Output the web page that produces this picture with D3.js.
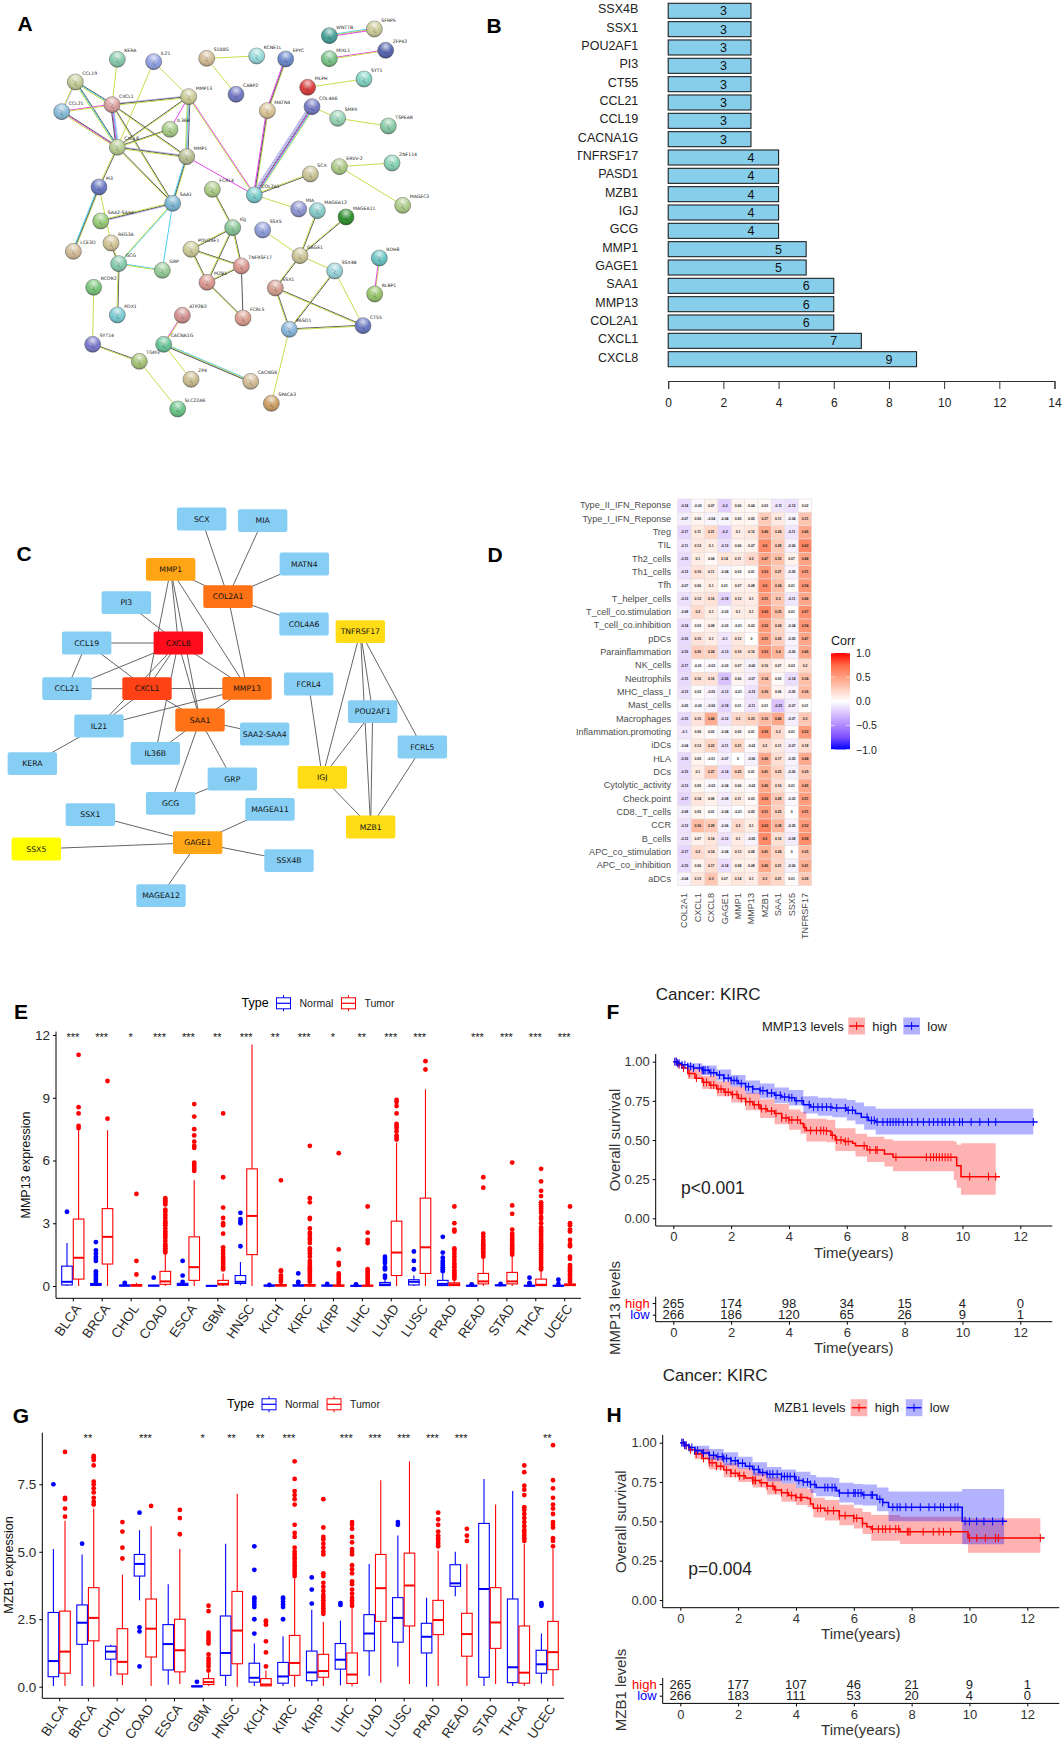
<!DOCTYPE html>
<html>
<head>
<meta charset="utf-8">
<script src="https://cdnjs.cloudflare.com/ajax/libs/d3/7.8.5/d3.min.js"></script>
<style>
body { margin: 0; background: #fff; }
text { font-family: "Liberation Sans", sans-serif; }
</style>
</head>
<body>
<div id="fig"></div>
<script>
// ---- panel B
const hubGenes = ["SSX4B","SSX1","POU2AF1","PI3","CT55","CCL21","CCL19","CACNA1G","TNFRSF17","PASD1","MZB1","IGJ","GCG","MMP1","GAGE1","SAA1","MMP13","COL2A1","CXCL1","CXCL8"];
const hubDegree = [3,3,3,3,3,3,3,3,4,4,4,4,4,5,5,6,6,6,7,9];
const hubTicks = [0,2,4,6,8,10,12,14];

// ---- panel A, STRING network: name, layout x, layout y
const stringNodes = [["WNT7B",988,107],["SFRP5",1123,87],["ZFP42",1157,151],["MIXL1",988,176],["SYT1",1092,237],["MLPH",923,262],["COL4A6",936,320],["SMPX",1013,355],["TSPEAR",1165,378],["KERA",352,178],["IL21",461,185],["S100G",620,175],["KCNE1L",770,168],["EPYC",857,177],["CABP2",708,283],["CCL19",226,246],["CCL21",185,335],["CXCL1",336,314],["MMP13",566,290],["MATN4",802,332],["IL36B",510,388],["CXCL8",352,442],["MMP1",560,470],["PI3",297,561],["SAA1",518,610],["COL2A1",763,585],["SCX",931,522],["ERVV-2",1018,500],["ZNF114",1176,489],["MAGEC3",1208,616],["FCRL4",637,568],["MIA",896,627],["MAGEA12",952,632],["MAGEA11",1038,651],["SAA2-SAA4",302,663],["IGJ",698,683],["SSX5",788,690],["POU2AF1",573,748],["REG3A",333,729],["LCE3D",220,754],["GCG",356,791],["GRP",487,811],["GAGE1",900,767],["TNFRSF17",724,798],["SSX4B",1004,813],["RDH8",1138,774],["MZB1",621,847],["SSX1",826,864],["RCOR2",281,862],["RLBP1",1124,882],["FCRL5",729,954],["PDX1",352,945],["ATP2B3",547,946],["PASD1",868,988],["CT55",1089,977],["SYT14",278,1033],["CACNA1G",491,1033],["TGM3",418,1084],["ZP4",573,1138],["CACNG6",752,1144],["SPACA3",814,1210],["SLC22A6",533,1227]];
const stringColors = ["#3a9a90","#c8c890","#4a5aa8","#70c080","#7ad0c0","#d83030","#6a70c0","#90d0b0","#80c8a0","#80c8a8","#8a9ae0","#d0b890","#90d8d8","#6080c8","#6a70c0","#c0c890","#80b8d8","#d89a98","#c8c890","#d8c090","#a0c880","#b0c888","#b0b888","#6070c0","#70b0d0","#70c8c8","#c8c090","#a8c880","#80d0b0","#a8c880","#a8c880","#8890d0","#80c8c8","#208820","#90c870","#80c090","#8898d8","#c8c890","#d0c090","#d0b890","#80c8a8","#90c890","#c8c090","#d89088","#90d0d8","#60c0c0","#d89088","#d09888","#70c070","#90c060","#d89888","#70c8d0","#d08888","#80b0d8","#6070c0","#7070c8","#60c090","#a0c070","#c8b888","#d0b890","#c89858","#60c080"];
// y text mining, k coexpression, m experiments, c databases, b homology
const stringEdges = [["WNT7B","SFRP5","cym"],["MIXL1","ZFP42","my"],["S100G","KCNE1L","y"],["S100G","CABP2","y"],["EPYC","MATN4","ykm"],["MATN4","COL2A1","ykm"],["COL4A6","COL2A1","ycmkbbb"],["COL4A6","SMPX","y"],["SMPX","TSPEAR","y"],["MLPH","SYT1","y"],["ERVV-2","ZNF114","y"],["ERVV-2","MAGEC3","y"],["SCX","COL2A1","ky"],["COL2A1","MIA","y"],["MMP13","COL2A1","my"],["MMP1","COL2A1","m"],["KERA","CXCL1","y"],["IL21","MMP13","y"],["IL21","CXCL8","y"],["CCL19","CCL21","by"],["CCL19","CXCL1","kcy"],["CCL19","CXCL8","kcy"],["CCL21","CXCL1","my"],["CCL21","CXCL8","kmy"],["CXCL1","MMP13","bky"],["CXCL1","CXCL8","bcmk"],["CXCL1","MMP1","ky"],["CXCL1","SAA1","ky"],["CXCL8","MMP13","ky"],["CXCL8","IL36B","ky"],["CXCL8","MMP1","bky"],["CXCL8","SAA1","ky"],["CXCL8","PI3","ky"],["MMP13","MMP1","kbcy"],["MMP13","IL36B","m"],["MMP1","SAA1","ykc"],["SAA1","SAA2-SAA4","bky"],["SAA1","GCG","cy"],["SAA1","GRP","c"],["PI3","LCE3D","ykc"],["PI3","REG3A","y"],["GCG","GRP","cy"],["GCG","REG3A","ky"],["GCG","PDX1","ky"],["RCOR2","SYT14","y"],["SYT14","TGM3","ky"],["TGM3","SLC22A6","y"],["CACNA1G","ATP2B3","my"],["CACNA1G","ZP4","y"],["CACNA1G","CACNG6","cyk"],["FCRL4","IGJ","ky"],["IGJ","POU2AF1","ky"],["IGJ","TNFRSF17","ky"],["IGJ","MZB1","ky"],["POU2AF1","TNFRSF17","ky"],["POU2AF1","MZB1","ky"],["TNFRSF17","MZB1","ky"],["TNFRSF17","FCRL5","k"],["MZB1","FCRL5","ky"],["SSX5","GAGE1","y"],["MAGEA12","GAGE1","ky"],["MAGEA11","GAGE1","ky"],["GAGE1","SSX4B","y"],["GAGE1","SSX1","ky"],["SSX1","PASD1","ky"],["SSX1","CT55","ky"],["SSX4B","PASD1","ky"],["SSX4B","CT55","y"],["PASD1","CT55","ky"],["PASD1","SPACA3","y"],["RDH8","RLBP1","ym"]];

// ---- panel C, cytoscape network: name, layout x, layout y, rank colour
const cytoNodes = [["SCX",605,87,0],["MIA",788,92,0],["MATN4",913,222,0],["MMP1",512,238,3],["COL2A1",684,320,4],["PI3",379,338,0],["COL4A6",912,402,0],["TNFRSF17",1081,425,2],["CCL19",260,459,0],["CXCL8",535,459,6],["CCL21",201,596,0],["CXCL1",441,596,5],["MMP13",741,595,4],["FCRL4",926,582,0],["POU2AF1",1118,665,0],["SAA1",600,690,4],["IL21",297,708,0],["SAA2-SAA4",794,732,0],["IL36B",466,790,0],["FCRL5",1267,771,0],["KERA",97,821,0],["GRP",697,867,0],["IGJ",967,862,2],["GCG",512,940,0],["SSX1",271,974,0],["MAGEA11",810,958,0],["MZB1",1112,1011,2],["SSX5",109,1077,1],["GAGE1",593,1058,3],["SSX4B",867,1112,0],["MAGEA12",483,1217,0]];
const cytoRankColors = ["#87CEF5","#FFFF00","#FFDC16","#FFA516","#FF7216","#FF4216","#FF0D1A"];
const cytoEdges = [["SCX","COL2A1"],["MIA","COL2A1"],["MATN4","COL2A1"],["COL4A6","COL2A1"],["MMP1","COL2A1"],["COL2A1","MMP13"],["PI3","CXCL8"],["MMP1","CXCL1"],["MMP1","CXCL8"],["MMP1","SAA1"],["MMP1","MMP13"],["CCL19","CXCL8"],["CCL19","CCL21"],["CCL19","CXCL1"],["CCL21","CXCL8"],["CCL21","CXCL1"],["CXCL8","CXCL1"],["CXCL8","MMP13"],["CXCL8","SAA1"],["CXCL8","IL21"],["CXCL8","IL36B"],["CXCL1","MMP13"],["CXCL1","IL21"],["CXCL1","SAA1"],["MMP13","IL21"],["MMP13","SAA1"],["SAA1","SAA2-SAA4"],["SAA1","IL36B"],["SAA1","GRP"],["SAA1","GCG"],["GRP","GCG"],["IL21","KERA"],["SSX1","GAGE1"],["SSX5","GAGE1"],["MAGEA11","GAGE1"],["SSX4B","GAGE1"],["MAGEA12","GAGE1"],["TNFRSF17","IGJ"],["TNFRSF17","POU2AF1"],["TNFRSF17","MZB1"],["TNFRSF17","FCRL5"],["FCRL4","IGJ"],["POU2AF1","IGJ"],["POU2AF1","MZB1"],["IGJ","MZB1"],["FCRL5","MZB1"]];

// ---- panel D
const heatCols = ["COL2A1","CXCL1","CXCL8","GAGE1","MMP1","MMP13","MZB1","SAA1","SSX5","TNFRSF17"];
const heatRows = ["Type_II_IFN_Reponse","Type_I_IFN_Reponse","Treg","TIL","Th2_cells","Th1_cells","Tfh","T_helper_cells","T_cell_co.stimulation","T_cell_co.inhibition","pDCs","Parainflammation","NK_cells","Neutrophils","MHC_class_I","Mast_cells","Macrophages","Inflammation.promoting","iDCs","HLA","DCs","Cytolytic_activity","Check.point","CD8._T_cells","CCR","B_cells","APC_co_stimulation","APC_co_inhibition","aDCs"];
const heatValues = [
[-.14,-.03,.07,-.2,.06,.04,.03,-.11,-.13,.02],
[-.07,.06,-.04,-.04,.05,.05,.27,.11,-.04,.31],
[-.17,.11,.21,-.2,.1,.12,.46,.24,-.11,.46],
[-.11,.12,.1,-.13,.06,.07,.6,.28,-.06,.62],
[-.15,.1,.04,.14,.11,.2,.47,.33,.07,.48],
[-.12,.16,.11,-.04,.03,.01,.53,.27,-.05,.51],
[-.07,.06,.1,.01,.07,.08,.6,.34,.01,.54],
[-.13,.12,.16,-.18,.12,.1,.51,.3,-.11,.46],
[-.08,.2,.1,-.03,.1,.1,.62,.35,.01,.57],
[-.14,.03,.08,-.03,-.01,.03,.52,.24,-.04,.54],
[-.16,.15,.1,-.1,.12,0,.51,.26,-.05,.47],
[-.16,.26,.24,-.13,.16,.16,.53,.4,-.06,.46],
[-.17,-.01,-.03,-.03,.07,-.06,.16,.07,.03,.2],
[-.15,.16,.16,-.26,.06,-.07,.34,.03,-.14,.34],
[-.13,.02,-.05,-.13,-.01,-.12,.36,.06,-.05,.36],
[-.05,-.03,-.06,-.18,.01,-.11,.01,-.25,-.07,.01],
[-.15,.15,.44,-.12,.2,.23,.36,.46,-.07,.3],
[-.1,.06,.02,-.04,.05,.01,.56,.2,.01,.52],
[-.04,.12,.22,-.11,.21,-.02,.2,.11,-.07,.18],
[-.16,.05,-.01,-.07,0,-.06,.46,.17,-.05,.44],
[-.15,.1,.27,-.14,.25,.01,.41,.23,-.06,.29],
[-.13,.05,-.03,-.04,.06,-.02,.46,.16,.01,.45],
[-.17,.14,.08,-.08,.11,.03,.56,.28,-.03,.51],
[-.08,.05,.01,-.04,-.01,.05,.51,.25,0,.51],
[-.12,.36,.28,-.06,.2,.1,.62,.38,-.05,.52],
[-.12,.07,.14,-.12,.1,-.05,.6,.16,-.08,.58],
[-.17,.2,.14,-.04,.13,.08,.41,.24,0,.35],
[-.15,.06,.17,-.14,.08,.08,.46,.21,-.06,.41],
[-.04,.13,.3,.07,.14,.1,.3,.21,.01,.28]];
const corrTicks = [1,.5,0,-.5,-1];
const corrStops = [1,.75,.5,.25,0,-.25,-.5,-.75,-1];

// ---- panels E and G: [q1, median, q3, whisker low, whisker high]
const cancers = ["BLCA","BRCA","CHOL","COAD","ESCA","GBM","HNSC","KICH","KIRC","KIRP","LIHC","LUAD","LUSC","PRAD","READ","STAD","THCA","UCEC"];
const eStars = ["***","***","*","***","***","**","***","**","***","*","**","***","***","","***","***","***","***"];
const eTicks = [0,3,6,9,12];
const eNormalBox = [[.05,.2,.95,0,2.05],[.03,.07,.12,0,.18],[0,.02,.04,0,.06],[0,.02,.03,0,.05],[.03,.07,.13,0,.18],[0,.01,.02,0,.03],[.12,.2,.5,.03,1.15],[0,.02,.04,0,.06],[0,.02,.05,0,.1],[0,.02,.04,0,.06],[0,.01,.02,0,.04],[.02,.07,.17,0,.35],[.05,.2,.3,0,.5],[.02,.1,.27,0,.6],[0,.01,.03,0,.05],[.02,.03,.05,0,.08],[0,.01,.03,0,.05],[0,.01,.03,0,.05]];
const eTumorBox = [[.33,1.35,3.2,0,7.5],[1.05,2.35,3.7,0,7.45],[0,.02,.07,0,.15],[.08,.22,.7,0,1.5],[.27,.9,2.35,0,5.05],[.05,.1,.27,0,.6],[1.5,3.35,5.6,0,11.55],[0,.03,.07,0,.15],[0,.02,.07,0,.15],[0,.01,.05,0,.1],[0,.01,.04,0,.08],[.5,1.6,3.1,0,6.85],[.6,1.85,4.2,0,9.4],[.02,.08,.15,0,.3],[.1,.22,.6,0,1.3],[.1,.22,.65,0,1.4],[.02,.06,.33,0,.75],[.02,.05,.1,0,.2]];
const eNormalOut = [[3.55],[.2,.3,.4,.5,.6,.7,1.2,1.3,1.4,1.55,1.7,2.1],[.1,.15],[.4],[.2,.5,1.2],[],[1.9,3,3.1,3.2,3.5],[.05],[.15,.2,.6],[.1],[.05,.08],[.4,.5,.8,.9,1.1,1.2,1.3,1.4],[.8,1.2,1.65],[.7,.8,.9,1,1.1,1.2,1.35,1.6,2.35],[.08],[.1],[.1,.15,.4],[.1,.3]];
const eTumorOut = [[7.55,7.65,8.25,8.55,11.05],[8,9.8],[.55,1.2,4.4],[1.6,1.7,1.8,1.9,2,2.15,2.3,2.4,2.5,2.6,2.75,2.9,3,3.1,3.25,3.4,3.55,3.65,3.9,4,4.1,4.2],[5.5,5.6,5.7,5.8,5.9,6.6,6.7,6.9,7.2,7.5,8.1,8.7],[.8,.9,1,1.1,1.2,1.3,1.4,1.55,1.7,1.85,2.5,2.9,3,3.25,3.75,5.2,8.25],[],[.2,.3,.4,.5,.7,.75,5.05],[.2,.3,.4,.5,.6,.7,.8,.9,1,1.1,1.2,1.4,1.55,1.7,1.8,2.05,2.2,2.3,2.45,2.55,2.75,3.2,3.25,4,4.2,6.7],[.1,.2,.3,.4,.5,.6,1,1.1,1.75,6.35],[.1,.2,.3,.4,.5,.6,.7,.8,2.05,2.2,2.55,3.8],[7,7.1,7.2,7.4,7.55,7.65,7.75,8.25,8.6,8.8,8.9],[10.35,10.75],[.35,.45,.55,.65,.75,.9,1,1.1,1.25,1.4,1.55,1.7,1.8,2.6,2.7,3,3.8],[1.4,1.5,1.6,1.7,1.8,1.9,2,2.1,2.2,2.35,2.5,4.7,5.2],[1.5,1.6,1.7,1.8,1.9,2,2.1,2.2,2.3,2.4,2.5,2.7,3.45,3.85,5.9],[.8,.9,1,1.1,1.2,1.3,1.4,1.5,1.6,1.7,1.8,1.9,2,2.1,2.2,2.3,2.4,2.5,2.6,2.7,2.8,3,3.2,3.3,3.5,3.6,3.7,3.8,3.9,4,4.3,4.55,5,5.6],[.2,.3,.4,.5,.6,.7,.8,.9,1,1.3,1.4,1.9,2,2.2,2.6,2.7,2.9,3,3.8]];

const gStars = ["","**","","***","","*","**","**","***","","***","***","***","***","***","","","**"];
const gTicks = [0,2.5,5,7.5];
const gNormalBox = [[.37,.95,2.75,.03,5.1],[1.57,2.37,3.03,.03,4.9],[1.02,1.3,1.5,.4,1.55],[4.1,4.55,4.9,3.2,5.8],[.62,1.58,2.3,.07,3.8],[0,.01,.03,0,.05],[.42,1.25,2.62,.03,5.3],[.17,.33,.87,.03,1.6],[.13,.38,.9,.03,1.87],[.22,.53,1.32,.03,2.85],[.65,1,1.6,.05,2.45],[1.33,1.97,2.67,.4,4.55],[1.65,2.55,3.3,.75,5.6],[1.25,1.85,2.35,0,3.3],[3.72,3.83,4.52,3.35,5],[.35,3.62,6.05,.03,7.7],[.15,.72,3.25,.03,7.25],[.5,.83,1.35,.12,1.97]];
const gTumorBox = [[.5,1.3,2.8,.03,6.15],[1.7,2.55,3.67,0,6.6],[.47,.92,2.15,.05,4.15],[1.1,2.15,3.25,.03,5.95],[.55,1.35,2.5,.1,5.1],[.08,.17,.3,.03,.5],[.85,2.08,3.53,0,7.15],[.03,.08,.3,.01,.6],[.42,.88,1.9,0,4.05],[.35,.58,1.2,.03,2.4],[.12,.45,1.25,.02,2.95],[2.42,3.65,4.9,.15,7.65],[2.25,3.75,4.95,.1,8.35],[1.93,2.47,3.2,.03,5.05],[1.13,1.95,2.72,.03,4.55],[1.42,2.38,3.67,.1,6.75],[.13,.52,2.25,.03,5.3],[.63,1.28,2.42,.03,5.1]];
const gNormalOut = [[7.5],[5.3],[],[.75,2.05,2.2,6.45],[],[.18],[],[1.97,2.5,2.95,3.05,3.15,3.25,3.3,4.33,5.2],[2.5,2.95,3.05,3.15,3.25,3.3],[3.08,3.6,4.05],[3.03,3.1],[],[6,6.1],[],[],[],[],[3,3.05,3.1]];
const gTumorOut = [[6.3,6.6,6.95,7,8.7],[6.75,6.85,7,7.2,7.35,7.5,7.6,8.2,8.4,8.5,8.55],[4.75,5.15,5.75,6.1],[6.7],[5.65,6.25,6.55],[.6,.75,.85,.95,1.05,1.2,1.6,1.7,1.8,1.9,2,2.8,3],[],[.75,1.27,1.68,2.3,2.4,2.45],[4.1,4.2,4.3,4.4,4.5,4.6,4.7,4.8,4.9,5,5.15,5.55,5.7,6,6.75,6.95,7.1,7.25,7.7,8.35],[2.7,2.8,2.9,3,3.1,3.2,3.3,3.4,3.55,3.7,3.85,4.1,4.2,4.9,5,5.15,5.3,5.45,5.55,5.9,6.95],[3,3.1,3.2,3.3,3.45,3.6,3.8,3.9,4.2,4.35,4.5,4.9,5,5.1,5.35,5.55,5.85,6,6.1],[],[],[5.2,5.3,5.4,5.5,5.6,5.75,6,6.2,6.45],[5.4,5.6,5.85],[],[5.4,5.5,5.6,5.7,5.8,5.95,6.1,6.25,6.4,6.55,6.65,7.1,7.3,7.45,7.95,8.2],[5.2,5.4,5.5,5.9,6,6.1,6.4,6.6,6.75,7,7.35,7.65,8.95]];

// ---- panels F and H: curve [time, survival], band [time, lower, upper], censor times
const yearTicks = [0,2,4,6,8,10,12];
const survTicks = [0,.25,.5,.75,1];
const fLowCurve = [[0,1],[.15,.99],[.3,.98],[.5,.97],[.7,.96],[1,.945],[1.25,.93],[1.5,.915],[1.75,.895],[2,.88],[2.25,.86],[2.5,.84],[2.75,.825],[3,.815],[3.25,.8],[3.5,.785],[3.75,.775],[4,.77],[4.2,.75],[4.5,.725],[4.75,.71],[5.5,.705],[6,.69],[6.3,.67],[6.5,.645],[6.75,.625],[7,.615],[12.6,.615]];
const fLowBand = [[0,1,1],[.5,.95,.99],[1,.915,.975],[1.5,.88,.95],[2,.84,.915],[2.5,.795,.88],[3,.765,.86],[3.5,.735,.835],[4,.72,.82],[4.5,.67,.78],[5,.655,.77],[5.5,.645,.765],[6,.625,.755],[6.3,.6,.74],[6.6,.565,.715],[7,.535,.7],[12.45,.535,.7]];
const fLowCensor = [.05,.1,.15,.2,.3,.4,.5,.6,.7,.9,1,1.05,1.1,1.2,1.3,1.4,1.6,1.75,1.9,2,2.1,2.2,2.35,2.5,2.6,2.75,3,3.1,3.25,3.4,3.55,3.7,3.85,4,4.1,4.25,4.45,4.7,4.85,5,5.15,5.3,5.45,5.65,5.95,6.05,6.2,6.7,6.85,6.95,7.05,7.25,7.4,7.5,7.6,7.7,7.8,7.95,8.1,8.25,8.45,8.65,8.85,9,9.15,9.3,9.4,9.55,9.7,9.9,10,10.3,10.6,10.9,11.15,12.45];
const fHighCurve = [[0,1],[.15,.98],[.3,.96],[.5,.925],[.75,.895],[1,.868],[1.25,.85],[1.5,.825],[1.75,.805],[2,.79],[2.25,.765],[2.5,.745],[2.75,.725],[3,.7],[3.25,.685],[3.5,.67],[3.75,.64],[4,.628],[4.4,.605],[4.5,.58],[4.6,.56],[5.3,.557],[5.45,.53],[5.6,.5],[5.9,.49],[6.2,.48],[6.3,.463],[6.7,.436],[7.3,.41],[7.6,.39],[9.7,.39],[9.8,.335],[9.95,.266],[11.3,.266]];
const fHighBand = [[0,1,1],[.5,.89,.955],[1,.825,.91],[1.5,.78,.875],[2,.74,.84],[2.5,.69,.8],[3,.64,.76],[3.5,.6,.73],[4,.565,.695],[4.4,.54,.68],[4.6,.49,.635],[5.3,.485,.63],[5.6,.43,.575],[6.3,.395,.54],[6.7,.36,.52],[7.3,.33,.505],[7.6,.3,.495],[9.7,.245,.49],[9.8,.195,.47],[9.95,.15,.48],[11.15,.15,.48]];
const fHighCensor = [.1,.2,.35,.55,.8,1.05,1.15,1.3,1.4,1.55,1.65,1.8,1.9,2.05,2.2,2.35,2.5,2.65,2.8,2.95,3.05,3.2,3.4,3.55,3.75,3.9,4,4.1,4.3,4.55,4.75,4.95,5.1,5.2,5.3,5.5,5.65,5.8,5.95,6.05,6.6,6.8,7,7.05,7.7,8.75,8.9,9,9.1,9.2,9.3,9.4,9.5,9.6,10.25,10.9,11.15];
const fRiskHigh = [265,174,98,34,15,4,0];
const fRiskLow = [266,186,120,65,26,9,1];

const hLowCurve = [[0,1],[.15,.985],[.3,.97],[.5,.95],[.75,.935],[1,.92],[1.25,.91],[1.5,.9],[1.75,.885],[2,.87],[2.25,.85],[2.5,.83],[2.75,.81],[3,.8],[3.5,.785],[4,.76],[4.25,.75],[4.5,.735],[4.7,.715],[5.3,.715],[5.4,.695],[5.5,.68],[6.3,.667],[6.8,.64],[7,.62],[7.2,.59],[9.72,.59],[9.75,.5],[11.3,.5]];
const hLowBand = [[0,1,1],[.5,.925,.98],[1,.89,.96],[1.5,.855,.94],[2,.835,.91],[2.5,.79,.875],[3,.755,.845],[3.5,.74,.83],[4,.71,.815],[4.5,.68,.795],[4.7,.66,.78],[5.3,.655,.775],[5.5,.62,.745],[6,.605,.737],[6.3,.6,.735],[6.8,.565,.715],[7.2,.5,.69],[9.72,.5,.69],[9.75,.355,.705],[11.2,.355,.705]];
const hLowCensor = [.05,.1,.15,.2,.3,.4,.5,.6,.8,1,1.15,1.3,1.45,1.5,1.6,1.75,1.9,2,2.15,2.4,2.55,2.7,2.85,3,3.1,3.2,3.35,3.5,3.6,3.7,3.8,3.95,4.1,4.25,4.4,4.5,4.65,5,5.1,5.25,5.35,5.5,5.8,6,6.05,6.15,6.25,6.35,6.6,6.65,6.9,7,7.35,7.5,7.6,7.8,8,8.3,8.6,8.8,9,9.1,9.35,9.5,9.6,9.85,10,10.25,10.5,10.8,11.15];
const hHighCurve = [[0,1],[.15,.98],[.3,.955],[.5,.928],[.75,.9],[1,.873],[1.25,.85],[1.5,.826],[1.75,.805],[2,.79],[2.25,.775],[2.5,.76],[2.75,.745],[3,.725],[3.25,.7],[3.5,.682],[3.75,.665],[4,.652],[4.4,.646],[4.5,.61],[4.6,.583],[5,.568],[5.5,.536],[6,.52],[6.3,.487],[6.45,.465],[6.6,.451],[7.5,.451],[7.6,.434],[9.9,.434],[9.95,.394],[12.6,.394]];
const hHighBand = [[0,1,1],[.5,.895,.96],[1,.83,.915],[1.5,.78,.87],[2,.75,.837],[2.5,.715,.81],[3,.67,.78],[3.5,.625,.74],[4,.604,.71],[4.4,.59,.705],[4.6,.525,.65],[5,.505,.635],[5.5,.475,.605],[6,.455,.583],[6.3,.42,.56],[6.6,.377,.54],[7.5,.377,.54],[7.6,.356,.53],[9.9,.356,.52],[9.95,.3,.52],[12.45,.3,.52]];
const hHighCensor = [.1,.2,.35,.55,.8,1,1.1,1.25,1.4,1.6,1.75,1.9,2.05,2.2,2.5,2.55,2.6,2.8,3,3.2,3.3,3.5,3.7,3.85,4,4.15,4.2,4.75,4.85,5.1,5.3,5.5,5.7,6,6.1,6.3,6.65,6.85,7,7.1,7.25,7.45,7.55,7.85,7.9,7.95,8.4,8.75,8.95,9.1,9.35,10,10.25,10.55,10.9,11,12.45];
const hRiskHigh = [265,177,107,46,21,9,1];
const hRiskLow = [266,183,111,53,20,4,0];

const svg = d3.select("#fig").append("svg").attr("width", 1063).attr("height", 1743);
const BLUE = "#0000ff", RED = "#ff0000";

function panelLetter(s, x, y) {
    svg.append("text").attr("x", x).attr("y", y).attr("text-anchor", "middle").attr("dominant-baseline", "central")
        .style("font-size", "21px").style("font-weight", "bold").text(s);
}
[["A",25,23],["B",494,25],["C",24,553],["D",495,554],["E",21,1011],["F",613,1011],["G",21,1415],["H",614,1414]]
    .forEach(d => panelLetter(d[0], d[1], d[2]));

// ---------- A: STRING network ----------
const aX = d3.scaleLinear().domain([0,1440]).range([0,480]);
const aY = d3.scaleLinear().domain([0,1320]).range([0,440]);
const strandColor = {y:"#c6dc50", k:"#55555f", m:"#e848e8", c:"#48cdec", b:"#b4b0ec"};
const defs = svg.append("defs");
const gloss = defs.append("radialGradient").attr("id","gloss").attr("cx","50%").attr("cy","25%").attr("r","75%");
gloss.append("stop").attr("offset","0%").attr("stop-color","#fff").attr("stop-opacity",.75);
gloss.append("stop").attr("offset","55%").attr("stop-color","#fff").attr("stop-opacity",.05);
gloss.append("stop").attr("offset","100%").attr("stop-color","#000").attr("stop-opacity",.3);

const aPos = {};
stringNodes.forEach(n => aPos[n[0]] = [aX(n[1]), aY(n[2])]);
const gA = svg.append("g");
stringEdges.forEach(e => {
    const p = aPos[e[0]], q = aPos[e[1]];
    const len = Math.hypot(q[0]-p[0], q[1]-p[1]);
    const nx = -(q[1]-p[1])/len, ny = (q[0]-p[0])/len;
    e[2].split("").forEach((c, i) => {
        const off = (i - (e[2].length-1)/2) * .85;
        gA.append("line").attr("x1", p[0]+nx*off).attr("y1", p[1]+ny*off).attr("x2", q[0]+nx*off).attr("y2", q[1]+ny*off)
            .attr("stroke", strandColor[c]).attr("stroke-width", 1);
    });
});
const aNode = gA.selectAll("g.node").data(stringNodes).join("g").attr("class","node")
    .attr("transform", d => `translate(${aX(d[1])},${aY(d[2])})`);
aNode.append("circle").attr("r", 8).attr("fill", (d,i) => stringColors[i]).attr("stroke", "#555").attr("stroke-width", .5);
aNode.append("path").attr("d", "M-3,-2L1,0L-1,2L2,4").attr("fill","none").attr("stroke", (d,i) => d3.color(stringColors[i]).darker(1.2)).attr("stroke-width",.8);
aNode.append("circle").attr("r", 8).attr("fill", "url(#gloss)");
aNode.append("text").attr("x", 7).attr("y", -7).style("font-size","4.6px").style("font-family","DejaVu Sans").attr("fill","#222").text(d => d[0]);

// ---------- B: degree bars ----------
const bX = d3.scaleLinear().domain([0,14]).range([668.2,1054.5]);
const bY = d3.scaleBand().domain(hubGenes).range([3.3,366.7]).paddingInner(.18).paddingOuter(0);
const gB = svg.append("g");
defs.append("clipPath").attr("id","bclip").append("rect").attr("x",577.6).attr("y",0).attr("width",100).attr("height",420);
gB.append("g").attr("clip-path","url(#bclip)").selectAll("text").data(hubGenes).join("text")
    .attr("x",638.3).attr("y",d => bY(d)+bY.bandwidth()/2-1.5).attr("text-anchor","end").attr("dominant-baseline","central")
    .attr("fill","#222").style("font-size","12.5px").text(d => d);
gB.selectAll("rect").data(hubGenes).join("rect")
    .attr("x",bX(0)).attr("y",d => bY(d)).attr("height",bY.bandwidth())
    .attr("width",(d,i) => bX(hubDegree[i])-bX(0))
    .attr("fill","#87CEEB").attr("stroke","#222").attr("stroke-width",1.1);
gB.selectAll("text.val").data(hubGenes).join("text").attr("class","val")
    .attr("x",(d,i) => bX(hubDegree[i]-1)).attr("y",d => bY(d)+bY.bandwidth()/2+.5)
    .attr("text-anchor","middle").attr("dominant-baseline","central").attr("fill","#111").style("font-size","12.5px")
    .text((d,i) => hubDegree[i]);
const bAxis = gB.append("g").attr("transform","translate(0,381)")
    .call(d3.axisBottom(bX).tickValues(hubTicks).tickSizeOuter(0).tickSize(8).tickPadding(9));
bAxis.selectAll("line,path").attr("stroke","#333").attr("stroke-width",1);
bAxis.selectAll("text").attr("fill","#222").style("font-size","12px");

// ---------- C: hub network ----------
const cX = d3.scaleLinear().domain([0,1440]).range([0,480]);
const cY = d3.scaleLinear().domain([0,1320]).range([490,930]);
const cPos = {};
cytoNodes.forEach(n => cPos[n[0]] = [cX(n[1]), cY(n[2])]);
const gC = svg.append("g");
gC.selectAll("line").data(cytoEdges).join("line")
    .attr("x1",d => cPos[d[0]][0]).attr("y1",d => cPos[d[0]][1]).attr("x2",d => cPos[d[1]][0]).attr("y2",d => cPos[d[1]][1])
    .attr("stroke","#666").attr("stroke-width",1);
gC.selectAll("rect").data(cytoNodes).join("rect")
    .attr("x",d => cX(d[1])-24.7).attr("y",d => cY(d[2])-11.4).attr("width",49.4).attr("height",22.8).attr("rx",2)
    .attr("fill",d => cytoRankColors[d[3]]);
gC.selectAll("text").data(cytoNodes).join("text")
    .attr("x",d => cX(d[1])).attr("y",d => cY(d[2])).attr("text-anchor","middle").attr("dominant-baseline","central")
    .style("font-family","DejaVu Sans").style("font-size","7.7px").attr("fill","#111").text(d => d[0]);

// ---------- D: correlation heatmap ----------
const dX = d3.scaleBand().domain(heatCols).range([677.7,811.7]);
const dY = d3.scaleBand().domain(heatRows).range([499,885.7]);
const corrColor = d3.scaleLinear().domain([-1,0,1]).range([BLUE,"#ffffff",RED]).interpolate(d3.interpolateLab);
const gD = svg.append("g");
heatRows.forEach((r, ri) => heatCols.forEach((c, ci) => {
    const v = heatValues[ri][ci];
    gD.append("rect").attr("x",dX(c)).attr("y",dY(r)).attr("width",dX.bandwidth()).attr("height",dY.bandwidth())
        .attr("fill",corrColor(v)).attr("stroke","#e4dede").attr("stroke-width",.6);
    gD.append("text").attr("x",dX(c)+dX.bandwidth()/2).attr("y",dY(r)+dY.bandwidth()/2).attr("text-anchor","middle")
        .attr("dominant-baseline","central").style("font-size","3.4px").style("font-weight","bold").attr("fill","#222").text(v);
}));
gD.selectAll("text.row").data(heatRows).join("text").attr("class","row")
    .attr("x",671).attr("y",d => dY(d)+dY.bandwidth()/2-.5).attr("text-anchor","end").attr("dominant-baseline","central")
    .attr("fill","#4d4d4d").style("font-size","9.1px").text(d => d);
gD.selectAll("text.col").data(heatCols).join("text").attr("class","col")
    .attr("transform",d => `translate(${dX(d)+dX.bandwidth()/2},893) rotate(-90)`).attr("text-anchor","end").attr("dominant-baseline","central")
    .attr("fill","#4d4d4d").style("font-size","9.1px").text(d => d);
const corrGrad = defs.append("linearGradient").attr("id","corr").attr("x1",0).attr("y1",0).attr("x2",0).attr("y2",1);
corrStops.forEach((v,i) => corrGrad.append("stop").attr("offset",i*12.5+"%").attr("stop-color",corrColor(v)));
const corrY = d3.scaleLinear().domain([1,-1]).range([653,749.5]);
gD.append("text").attr("x",831).attr("y",641).attr("dominant-baseline","central").style("font-size","12.5px").attr("fill","#222").text("Corr");
gD.append("rect").attr("x",831).attr("y",corrY(1)).attr("width",19).attr("height",corrY(-1)-corrY(1)).attr("fill","url(#corr)");
corrTicks.forEach(v => {
    gD.append("line").attr("x1",831).attr("x2",835).attr("y1",corrY(v)).attr("y2",corrY(v)).attr("stroke","#fff").attr("stroke-width",.6);
    gD.append("line").attr("x1",846).attr("x2",850).attr("y1",corrY(v)).attr("y2",corrY(v)).attr("stroke","#fff").attr("stroke-width",.6);
    gD.append("text").attr("x",856).attr("y",corrY(v)).attr("dominant-baseline","central").style("font-size","10.5px").attr("fill","#222")
        .text(v.toFixed(1).replace("-","\u2212"));
});

// ---------- E, G: box plots ----------
function boxPanel(o) {
    const x = d3.scalePoint().domain(cancers).range(o.xRange);
    const y = d3.scaleLinear().domain(o.yDomain).range(o.yRange);
    const g = svg.append("g");
    const drawBoxes = (boxes, outs, col, dodge) => {
        cancers.forEach((c, i) => {
            const b = boxes[i], cx = x(c) + dodge, w = 5.3;
            g.append("line").attr("x1",cx).attr("x2",cx).attr("y1",y(b[3])).attr("y2",y(b[4])).attr("stroke",col).attr("stroke-width",1.1);
            g.append("rect").attr("x",cx-w).attr("width",w*2).attr("y",y(b[2])).attr("height",Math.max(y(b[0])-y(b[2]),.6))
                .attr("fill","#fff").attr("stroke",col).attr("stroke-width",1.1);
            g.append("line").attr("x1",cx-w).attr("x2",cx+w).attr("y1",y(b[1])).attr("y2",y(b[1])).attr("stroke",col).attr("stroke-width",2);
            g.selectAll(null).data(outs[i]).join("circle").attr("cx",cx).attr("cy",d => y(d)).attr("r",2.4).attr("fill",col);
        });
    };
    drawBoxes(o.normal, o.normalOut, BLUE, -5.8);
    drawBoxes(o.tumor, o.tumorOut, RED, 5.8);
    g.selectAll("text.star").data(cancers).join("text").attr("class","star")
        .attr("x",d => x(d)).attr("y",o.starY).attr("text-anchor","middle").style("font-size","11px").attr("fill","#111")
        .text((d,i) => o.stars[i]);
    const yAx = g.append("g").attr("transform",`translate(${o.axisX},0)`)
        .call(d3.axisLeft(y).tickValues(o.ticks).tickFormat(o.fmt).tickSize(3).tickSizeOuter(0));
    yAx.select("path").attr("d",`M0,${o.top}V${o.axisY}`);
    const xAx = g.append("g").attr("transform",`translate(0,${o.axisY})`)
        .call(d3.axisBottom(x).tickSize(3).tickSizeOuter(0));
    xAx.select("path").attr("d",`M${o.axisX},0H${o.right}`);
    xAx.selectAll("text").attr("text-anchor","end").attr("transform","translate(4,7) rotate(-55)").attr("y",0).attr("x",0).attr("dy","0.4em");
    [yAx,xAx].forEach(a => {
        a.selectAll("path,line").attr("stroke","#000").attr("stroke-width",1);
        a.selectAll("text").style("font-size","13.5px").attr("fill","#2a2a2a");
    });
    g.append("text").attr("transform",`translate(${o.labelX},${o.labelY}) rotate(-90)`).attr("text-anchor","middle")
        .attr("dominant-baseline","central").style("font-size","12.5px").attr("fill","#111").text(o.label);
    // legend
    g.append("text").attr("x",o.legX).attr("y",o.legY).attr("dominant-baseline","central").style("font-size","12.5px").text("Type");
    [[o.legX+35,BLUE,"Normal",o.legX+58],[o.legX+100,RED,"Tumor",o.legX+123]].forEach(k => {
        const kx = k[0], kc = k[1];
        g.append("line").attr("x1",kx+7).attr("x2",kx+7).attr("y1",o.legY-8).attr("y2",o.legY+8).attr("stroke",kc).attr("stroke-width",1);
        g.append("rect").attr("x",kx).attr("y",o.legY-5.5).attr("width",14).attr("height",11).attr("fill","#fff").attr("stroke",kc).attr("stroke-width",1);
        g.append("line").attr("x1",kx).attr("x2",kx+14).attr("y1",o.legY).attr("y2",o.legY).attr("stroke",kc).attr("stroke-width",1.2);
        g.append("text").attr("x",k[3]).attr("y",o.legY).attr("dominant-baseline","central").style("font-size","10.5px").attr("fill","#222").text(k[2]);
    });
}
boxPanel({xRange:[72.8,564.2], yDomain:[0,12], yRange:[1286,1035], axisX:56, axisY:1298.3, top:1031.7, right:581,
    normal:eNormalBox, tumor:eTumorBox, normalOut:eNormalOut, tumorOut:eTumorOut, stars:eStars, starY:1041, ticks:eTicks, fmt:d3.format("d"),
    label:"MMP13 expression", labelX:25.7, labelY:1165, legX:241.5, legY:1003.3});
boxPanel({xRange:[59.2,547.2], yDomain:[0,7.5], yRange:[1686.7,1484.3], axisX:42.3, axisY:1698.3, top:1432.7, right:564,
    normal:gNormalBox, tumor:gTumorBox, normalOut:gNormalOut, tumorOut:gTumorOut, stars:gStars, starY:1442,ticks:gTicks, fmt:d3.format(".1f"),
    label:"MZB1 expression", labelX:8.5, labelY:1565, legX:227, legY:1404.3});

// ---------- F, H: survival ----------
function survPanel(o) {
    const x = d3.scaleLinear().domain([0,12]).range(o.xRange);
    const y = d3.scaleLinear().domain([0,1]).range(o.yRange);
    const g = svg.append("g");
    const band = d3.area().curve(d3.curveStepAfter).x(d => x(d[0])).y0(d => y(d[1])).y1(d => y(d[2]));
    const line = d3.line().curve(d3.curveStepAfter).x(d => x(d[0])).y(d => y(d[1]));
    const survAt = (curve, t) => curve[d3.bisector(d => d[0]).right(curve, t) - 1][1];
    g.append("text").attr("x",o.titleX).attr("y",o.titleY).attr("dominant-baseline","central").style("font-size","17px").attr("fill","#222").text("Cancer: KIRC");
    [[o.highBand,o.highCurve,o.highCensor,RED],[o.lowBand,o.lowCurve,o.lowCensor,BLUE]].forEach(s => {
        g.append("path").attr("d",band(s[0])).attr("fill",s[3]).attr("fill-opacity",.3);
    });
    [[o.highBand,o.highCurve,o.highCensor,RED],[o.lowBand,o.lowCurve,o.lowCensor,BLUE]].forEach(s => {
        g.append("path").attr("d",line(s[1])).attr("fill","none").attr("stroke",s[3]).attr("stroke-width",1.5);
        g.selectAll(null).data(s[2]).join("line")
            .attr("x1",d => x(d)).attr("x2",d => x(d)).attr("y1",d => y(survAt(s[1],d))-4).attr("y2",d => y(survAt(s[1],d))+4)
            .attr("stroke",s[3]).attr("stroke-width",1);
    });
    const yAx = g.append("g").attr("transform",`translate(${o.axisX},0)`)
        .call(d3.axisLeft(y).tickValues(survTicks).tickFormat(d3.format(".2f")).tickSize(3).tickSizeOuter(0));
    yAx.select("path").attr("d",`M0,${o.top}V${o.axisY}`);
    const xAx = g.append("g").attr("transform",`translate(0,${o.axisY})`)
        .call(d3.axisBottom(x).tickValues(yearTicks).tickSize(3).tickSizeOuter(0));
    xAx.select("path").attr("d",`M${o.axisX},0H${o.right}`);
    // risk table
    const rAxisY = o.axisY + 95.7;
    const rY = d3.scalePoint().domain(["high","low"]).range(o.riskRows);
    const rLeft = g.append("g").attr("transform",`translate(${o.axisX},0)`).call(d3.axisLeft(rY).tickSize(3).tickSizeOuter(0));
    rLeft.select("path").attr("d",`M0,${o.riskTop}V${rAxisY}`);
    rLeft.selectAll("text").attr("fill",d => d === "high" ? RED : BLUE).style("font-size","13px");
    const rBottom = g.append("g").attr("transform",`translate(0,${rAxisY})`)
        .call(d3.axisBottom(x).tickValues(yearTicks).tickSize(3).tickSizeOuter(0));
    rBottom.select("path").attr("d",`M${o.axisX},0H${o.right}`);
    [yAx,xAx,rLeft,rBottom].forEach(a => a.selectAll("path,line").attr("stroke","#000").attr("stroke-width",1));
    [yAx,xAx,rBottom].forEach(a => a.selectAll("text").style("font-size","13px").attr("fill","#333"));
    [["high",o.riskHigh],["low",o.riskLow]].forEach(r => {
        g.selectAll(null).data(r[1]).join("text").attr("x",(d,i) => x(yearTicks[i])).attr("y",rY(r[0])).attr("text-anchor","middle")
            .attr("dominant-baseline","central").style("font-size","13px").attr("fill","#222").text(d => d);
    });
    const mid = (o.xRange[0]+o.xRange[1])/2 + 7;
    [[o.axisY+26,"Time(years)"],[rAxisY+26,"Time(years)"]].forEach(t => {
        g.append("text").attr("x",mid).attr("y",t[0]).attr("text-anchor","middle").attr("dominant-baseline","central")
            .style("font-size","15px").attr("fill","#333").text(t[1]);
    });
    g.append("text").attr("transform",`translate(${o.labelX},${o.surLabelY}) rotate(-90)`).attr("text-anchor","middle").attr("dominant-baseline","central")
        .style("font-size","15px").attr("fill","#333").text("Overall survival");
    g.append("text").attr("transform",`translate(${o.labelX},${o.riskLabelY}) rotate(-90)`).attr("text-anchor","middle").attr("dominant-baseline","central")
        .style("font-size","15px").attr("fill","#333").text(o.gene+" levels");
    g.append("text").attr("x",o.pX).attr("y",o.pY).attr("dominant-baseline","central").style("font-size","17.5px").attr("fill","#222").text(o.pText);
    // legend
    g.append("text").attr("x",o.legX).attr("y",o.legY).attr("dominant-baseline","central").style("font-size","13px").attr("fill","#222").text(o.gene+" levels");
    [[o.keyX,RED,"high"],[o.keyX+55,BLUE,"low"]].forEach(k => {
        g.append("rect").attr("x",k[0]).attr("y",o.legY-8.5).attr("width",16.7).attr("height",17).attr("fill",k[1]).attr("fill-opacity",.3);
        g.append("line").attr("x1",k[0]+1).attr("x2",k[0]+15.7).attr("y1",o.legY).attr("y2",o.legY).attr("stroke",k[1]).attr("stroke-width",1.5);
        g.append("line").attr("x1",k[0]+8.3).attr("x2",k[0]+8.3).attr("y1",o.legY-4).attr("y2",o.legY+4).attr("stroke",k[1]).attr("stroke-width",1);
        g.append("text").attr("x",k[0]+24).attr("y",o.legY).attr("dominant-baseline","central").style("font-size","13px").attr("fill","#222").text(k[2]);
    });
}
survPanel({gene:"MMP13", xRange:[673.3,1020.3], yRange:[1218.3,1061.7], axisX:655.7, axisY:1226, top:1054, right:1052.3,
    lowCurve:fLowCurve, lowBand:fLowBand, lowCensor:fLowCensor, highCurve:fHighCurve, highBand:fHighBand, highCensor:fHighCensor,
    riskHigh:fRiskHigh, riskLow:fRiskLow, riskRows:[1303,1314.7], riskTop:1296.7,
    titleX:655.7, titleY:994, labelX:614, surLabelY:1140, riskLabelY:1308, pText:"p<0.001", pX:681, pY:1188, legX:762, legY:1026, keyX:848.3});
survPanel({gene:"MZB1", xRange:[680.3,1027.3], yRange:[1600,1442.7], axisX:662.7, axisY:1607.7, top:1435, right:1059.3,
    lowCurve:hLowCurve, lowBand:hLowBand, lowCensor:hLowCensor, highCurve:hHighCurve, highBand:hHighBand, highCensor:hHighCensor,
    riskHigh:hRiskHigh, riskLow:hRiskLow, riskRows:[1684,1695.7], riskTop:1678,
    titleX:662.7, titleY:1375, labelX:620.7, surLabelY:1521.7, riskLabelY:1690, pText:"p=0.004", pX:688.3, pY:1569, legX:774, legY:1407.7, keyX:850.7});
</script>
</body>
</html>
